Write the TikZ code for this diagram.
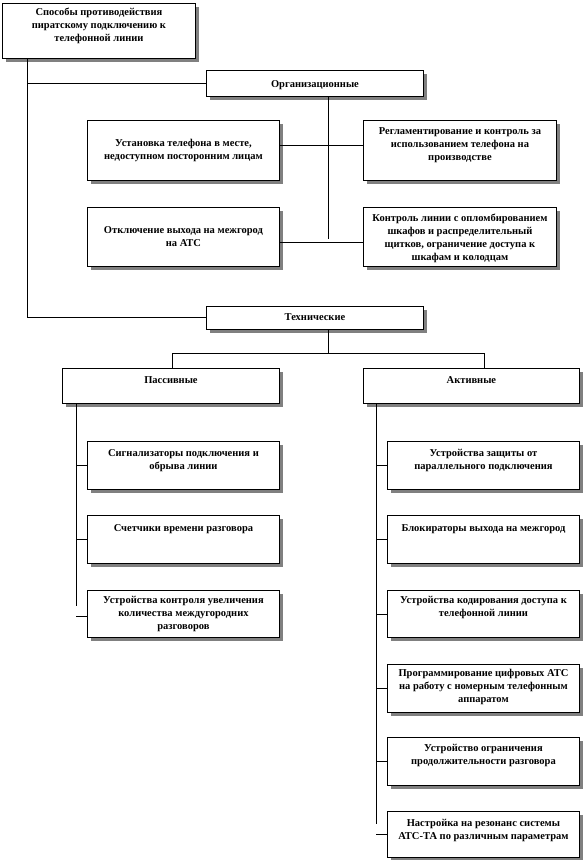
\documentclass[tikz,border=0pt]{standalone}
\usepackage{fontspec}
\setmainfont{Liberation Serif}
\usetikzlibrary{shadows}
\newcommand\mybox[7]{\node[box] (#1) at (#2,-#3) {\parbox[c][#5pt][t]{#4pt}{\centering\vspace*{#6pt}\rule{0pt}{7.5pt}#7}};}
\begin{document}
\begin{tikzpicture}[x=1pt,y=1pt,
  box/.style={draw, line width=0.9pt, fill=white, inner sep=0pt, anchor=north west,
    font=\bfseries\fontsize{10.5}{13}\selectfont,
    drop shadow={shadow xshift=3.5pt, shadow yshift=-3.5pt, fill=black!50, opacity=1}},
  conn/.style={draw, line width=0.6pt}]
\useasboundingbox (0,0) rectangle (584,-860);
\fill[white] (0,0) rectangle (584,-860);
\mybox{b1}{2}{3}{193}{55}{5}{Способы противодействия\\ пиратскому подключению к\\ телефонной линии}
\mybox{org}{206}{70}{217}{26}{10}{Организационные}
\mybox{b3}{87}{120}{192}{60}{19}{Установка телефона в месте,\\ недоступном посторонним лицам}
\mybox{b4}{363}{120}{193}{60}{7}{Регламентирование и контроль за\\ использованием телефона на\\ производстве}
\mybox{b5}{87}{207}{192}{59}{19}{Отключение выхода на межгород\\ на АТС}
\mybox{b6}{363}{207}{193}{59}{7}{Контроль линии с опломбированием\\ шкафов и распределительный\\ щитков, ограничение доступа к\\ шкафам и колодцам}
\mybox{tech}{206}{306}{217}{23}{7}{Технические}
\mybox{pass}{62}{368}{217}{35}{8}{Пассивные}
\mybox{act}{363}{368}{216}{35}{8}{Активные}
\mybox{c1}{87}{441}{192}{48}{8}{Сигнализаторы подключения и\\ обрыва линии}
\mybox{c2}{87}{515}{192}{48}{9}{Счетчики времени разговора}
\mybox{c3}{87}{590}{192}{47}{6}{Устройства контроля увеличения\\ количества междугородних\\ разговоров}
\mybox{a1}{387}{441}{192}{48}{8}{Устройства защиты от\\ параллельного подключения}
\mybox{a2}{387}{515}{192}{48}{9}{Блокираторы выхода на межгород}
\mybox{a3}{387}{590}{192}{47}{6}{Устройства кодирования доступа к\\ телефонной линии}
\mybox{a4}{387}{664}{192}{48}{5}{Программирование цифровых АТС\\ на работу с номерным телефонным\\ аппаратом}
\mybox{a5}{387}{737}{192}{48}{7}{Устройство ограничения\\ продолжительности разговора}
\mybox{a6}{387}{811}{192}{46}{8}{Настройка на резонанс системы\\ АТС-ТА по различным параметрам}
% coordinates
\coordinate (lt) at (27,-58);
\coordinate (lb) at (27,-317);
\coordinate (oj) at (328,-239);
\coordinate (tj) at (328,-353);
\coordinate (pj) at (172,-353);
\coordinate (aj) at (484,-353);
\coordinate (pt) at (76,-606);
\coordinate (at) at (376,-824);
% connectors
\draw[conn] (b1.south -| lt) -- (lb);
\draw[conn] (org.west -| lt) -- (org.west);
\draw[conn] (lb) -- (lb -| tech.west);
\draw[conn] (org.south -| oj) -- (oj);
\draw[conn] ([yshift=5pt]b3.east) -- ([yshift=5pt]b4.west);
\draw[conn] ([yshift=-5.5pt]b5.east) -- ([yshift=-5.5pt]b6.west);
\draw[conn] (tech.south -| tj) -- (tj);
\draw[conn] (pj) -- (aj);
\draw[conn] (pj) -- (pj |- pass.north);
\draw[conn] (aj) -- (aj |- act.north);
\draw[conn] (pass.south -| pt) -- (pt);
\draw[conn] (c1.west -| pt) -- (c1.west);
\draw[conn] (c2.west -| pt) -- (c2.west);
\draw[conn] ([yshift=-2pt]c3.west -| pt) -- ([yshift=-2pt]c3.west);
\draw[conn] (act.south -| at) -- (at);
\draw[conn] (a1.west -| at) -- (a1.west);
\draw[conn] (a2.west -| at) -- (a2.west);
\draw[conn] (a3.west -| at) -- (a3.west);
\draw[conn] (a4.west -| at) -- (a4.west);
\draw[conn] (a5.west -| at) -- (a5.west);
\draw[conn] (a6.west -| at) -- (a6.west);
\end{tikzpicture}
\end{document}
